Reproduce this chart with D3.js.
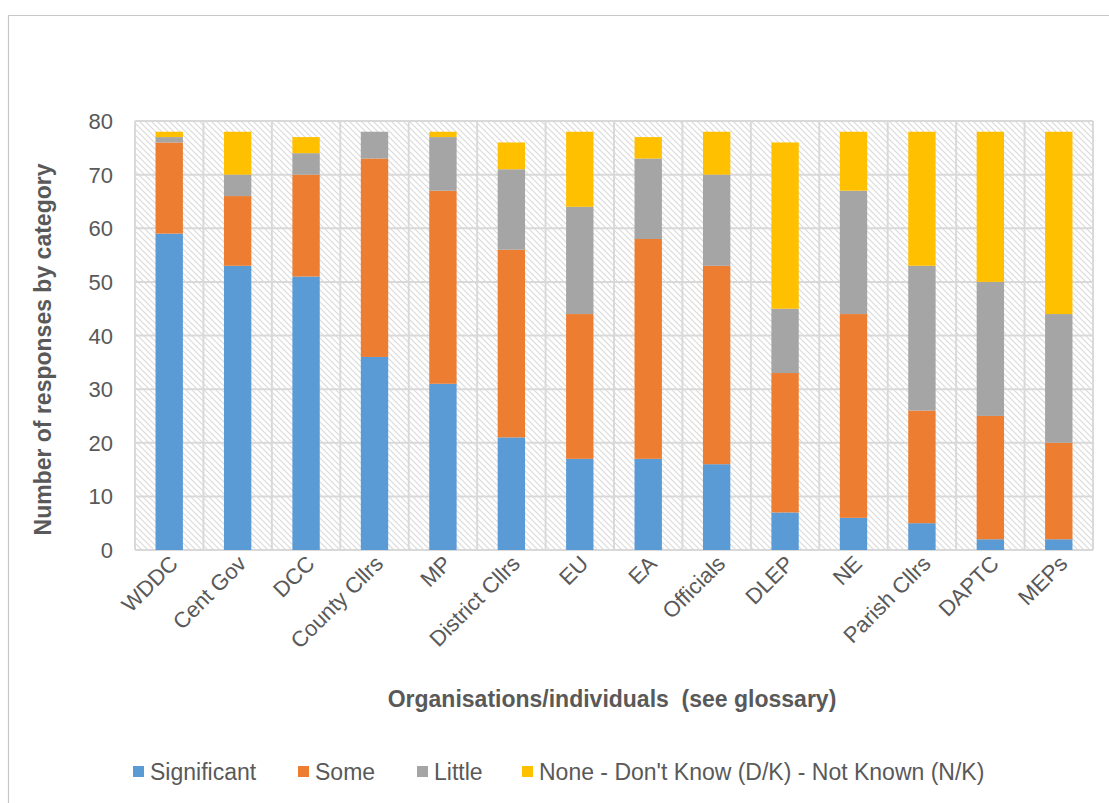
<!DOCTYPE html>
<html>
<head>
<meta charset="utf-8">
<script src="https://cdn.jsdelivr.net/npm/d3@7"></script>
<style>
  body { margin: 0; background: #fff; }
  svg { font-family: "Liberation Sans", Arial, sans-serif; }
</style>
</head>
<body>
<svg id="chart" width="1109" height="803"></svg>
<script>
const categories = ["WDDC", "Cent Gov", "DCC", "County Cllrs", "MP", "District Cllrs", "EU", "EA",
  "Officials", "DLEP", "NE", "Parish Cllrs", "DAPTC", "MEPs"];
const significant = [59, 53, 51, 36, 31, 21, 17, 17, 16, 7, 6, 5, 2, 2];
const some = [17, 13, 19, 37, 36, 35, 27, 41, 37, 26, 38, 21, 23, 18];
const little = [1, 4, 4, 5, 10, 15, 20, 15, 17, 12, 23, 27, 25, 24];
const none = [1, 8, 3, 0, 1, 5, 14, 4, 8, 31, 11, 25, 28, 34];
const seriesNames = ["Significant", "Some", "Little", "None - Don't Know (D/K) - Not Known (N/K)"];
const yTicks = [0, 10, 20, 30, 40, 50, 60, 70, 80];

const colors = ["#5B9BD5", "#ED7D31", "#A5A5A5", "#FFC000"];
const keys = ["significant", "some", "little", "none"];

const rows = categories.map((c, i) => ({
  cat: c, significant: significant[i], some: some[i], little: little[i], none: none[i]
}));

const svg = d3.select("#chart");
const plotLeft = 135, plotRight = 1093, plotTop = 121, plotBottom = 550;

// outer chart border
svg.append("path")
  .attr("d", "M8.5,803 V15.5 H1109")
  .attr("fill", "none").attr("stroke", "#c8c8c8").attr("stroke-width", 1.2);

const defs = svg.append("defs");
const pat = defs.append("pattern").attr("id", "hatch")
  .attr("patternUnits", "userSpaceOnUse").attr("width", 6).attr("height", 6);
pat.append("path").attr("d", "M-1,-1 L7,7 M-4,2 L2,8 M4,-2 L8,2")
  .attr("stroke", "#d9d9d9").attr("stroke-width", 1.1);

const x = d3.scaleBand().domain(categories).range([plotLeft, plotRight]).paddingInner(0.6).paddingOuter(0.3);
const y = d3.scaleLinear().domain([0, 80]).range([plotBottom, plotTop]);
const band = (plotRight - plotLeft) / categories.length;

svg.append("rect").attr("x", plotLeft).attr("y", plotTop)
  .attr("width", plotRight - plotLeft).attr("height", plotBottom - plotTop).attr("fill", "url(#hatch)");

// grid
const grid = svg.append("g").attr("stroke", "#d9d9d9").attr("stroke-width", 2);
yTicks.forEach(t => {
  grid.append("line").attr("x1", plotLeft).attr("x2", plotRight).attr("y1", y(t)).attr("y2", y(t));
});
d3.range(categories.length + 1).forEach(i => {
  grid.append("line").attr("x1", plotLeft + i * band).attr("x2", plotLeft + i * band)
    .attr("y1", plotTop).attr("y2", plotBottom);
});

const stack = d3.stack().keys(keys)(rows);
svg.append("g").selectAll("g").data(stack).join("g")
  .attr("fill", (d, i) => colors[i])
  .selectAll("rect").data(d => d).join("rect")
  .attr("x", d => x(d.data.cat))
  .attr("width", x.bandwidth())
  .attr("y", d => y(d[1]))
  .attr("height", d => y(d[0]) - y(d[1]));

// y axis labels
svg.append("g").selectAll("text").data(yTicks).join("text")
  .attr("x", 113).attr("y", d => y(d) + 8)
  .attr("text-anchor", "end").attr("font-size", 22).attr("fill", "#595959")
  .text(d => d);

// x axis labels
svg.append("g").selectAll("text").data(categories).join("text")
  .attr("transform", d => `translate(${x(d) + x.bandwidth() / 2 + 10},${565}) rotate(-45)`)
  .attr("text-anchor", "end").attr("font-size", 22).attr("fill", "#595959")
  .text(d => d);

svg.append("text")
  .attr("transform", `translate(51,${(plotTop + plotBottom) / 2 + 14}) rotate(-90)`)
  .attr("text-anchor", "middle").attr("font-size", 23).attr("font-weight", "bold").attr("fill", "#595959")
  .text("Number of responses by category");

svg.append("text")
  .attr("x", 612).attr("y", 707)
  .attr("text-anchor", "middle").attr("font-size", 23).attr("font-weight", "bold").attr("fill", "#595959")
  .style("white-space", "pre")
  .text("Organisations/individuals  (see glossary)");

// legend
const legendX = [133, 298, 417, 522];
const legend = svg.append("g").selectAll("g").data(seriesNames).join("g")
  .attr("transform", (d, i) => `translate(${legendX[i]},766)`);
legend.append("rect").attr("width", 11).attr("height", 11).attr("fill", (d, i) => colors[i]);
legend.append("text").attr("x", 17).attr("y", 14).attr("font-size", 23).attr("fill", "#595959").text(d => d);
</script>
</body>
</html>
